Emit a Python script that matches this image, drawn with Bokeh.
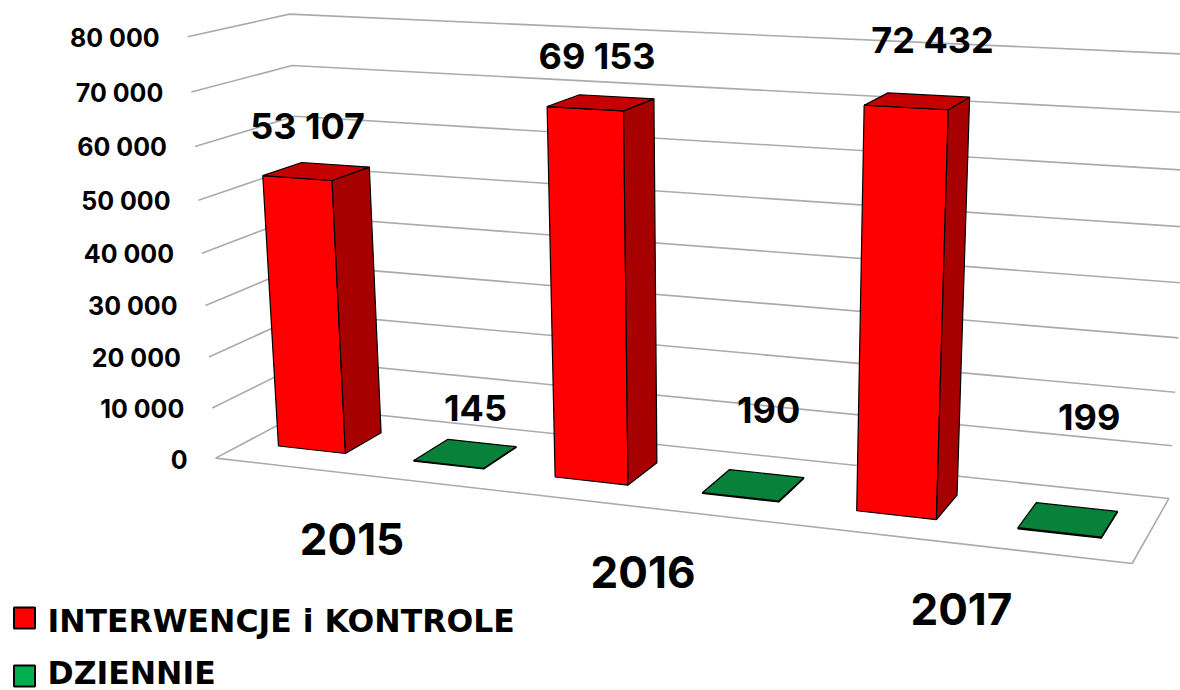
import numpy as np
from bokeh.plotting import figure
from bokeh.embed import file_html
from bokeh.resources import INLINE
from bokeh.core.properties import value
from bokeh.models import ColumnDataSource

years = ["2015", "2016", "2017"]
series_names = ["INTERWENCJE i KONTROLE", "DZIENNIE"]
interwencje = [53107, 69153, 72432]
dziennie = [145, 190, 199]
labels_interwencje = ["53 107", "69 153", "72 432"]
labels_dziennie = ["145", "190", "199"]
tick_values = [0, 10000, 20000, 30000, 40000, 50000, 60000, 70000, 80000]
tick_labels = ["0", "10 000", "20 000", "30 000", "40 000", "50 000", "60 000", "70 000", "80 000"]
VMAX = 80000

FONT = "Inter"
LEGEND_FONT = "DejaVu Sans"
FACE_COLORS = [("#FF0000", "#A60000", "#C40000"), ("#00B050", "#06702F", "#08813A")]
LEGEND_COLORS = ["#FF0000", "#00B050"]
GRID = "#ABABAB"

# camera calibration of the 3D chart box: (x along categories, z depth, y = value/VMAX) -> page pixels
world = [(0,0,0),(1,0,0),(1,1,0),(0,1,0),(0,1,1),(1,1,1),(0,0,1)]
screen = [(214,457),(1132,563),(1168,498),(311,408),(288,13),(1195,54),(188,37)]
A, b = [], []
for (X, Z, Y), (u, v) in zip(world, screen):
    A.append([X, Y, Z, 1, 0, 0, 0, 0, -u*X, -u*Y, -u*Z]); b.append(u)
    A.append([0, 0, 0, 0, X, Y, Z, 1, -v*X, -v*Y, -v*Z]); b.append(v)
h = np.linalg.lstsq(np.array(A, float), np.array(b, float), rcond=None)[0]
P = np.append(h, 1).reshape(3, 4)

def proj(x, z, val):
    w = P @ np.array([x, val / VMAX, z, 1.0])
    return float(w[0] / w[2]), float(w[1] / w[2])

def poly(points):
    pts = [proj(*q) for q in points]
    return [q[0] for q in pts], [q[1] for q in pts]

# layout of the bars in box units
CAT_W = 1 / 3
BAR_W = CAT_W / 4
Z0, Z1 = 0.30, 0.70

# label offsets from the top centre of each bar, page pixels
label_dx = [[-9, -4, 15], [10, 15, 21]]
label_dy = [[-45, -47, -61], [-46, -75, -102]]

p = figure(width=1180, height=690, x_range=(0, 1180), y_range=(690, 0),
           toolbar_location=None, output_backend="svg", min_border=0,
           outline_line_color=None, background_fill_color="white")
p.axis.visible = False
p.grid.visible = False

# walls: one bent gridline per tick, and the floor outline
for t in tick_values[1:]:
    xs, ys = poly([(0, 0, t), (0, 1, t), (1, 1, t)])
    p.line(xs, ys, line_color=GRID, line_width=1.6)
xs, ys = poly([(0, 0, 0), (1, 0, 0), (1, 1, 0), (0, 1, 0), (0, 0, 0)])
p.line(xs, ys, line_color=GRID, line_width=1.6)

# bars, painted left to right
fx, fy, fc = [], [], []
lx, ly, lt, ldx, ldy = [], [], [], [], []
for i in range(len(years)):
    for j, (vals, texts) in enumerate([(interwencje, labels_interwencje), (dziennie, labels_dziennie)]):
        x0 = i * CAT_W + BAR_W / 2 + j * 2 * BAR_W
        x1 = x0 + BAR_W
        v = vals[i]
        front, side, top = FACE_COLORS[j]
        faces = [
            ([(x0, Z0, 0), (x1, Z0, 0), (x1, Z0, v), (x0, Z0, v)], front),
            ([(x1, Z0, 0), (x1, Z1, 0), (x1, Z1, v), (x1, Z0, v)], side),
            ([(x0, Z0, v), (x1, Z0, v), (x1, Z1, v), (x0, Z1, v)], top),
        ]
        for pts, col in faces:
            a, c = poly(pts)
            fx.append(a); fy.append(c); fc.append(col)
        cx, cy = proj((x0 + x1) / 2, (Z0 + Z1) / 2, v)
        lx.append(cx); ly.append(cy); lt.append(texts[i])
        ldx.append(label_dx[j][i]); ldy.append(label_dy[j][i])
p.patches(xs="xs", ys="ys", fill_color="c", line_color="#000000", line_width=1.2,
          source=ColumnDataSource(dict(xs=fx, ys=fy, c=fc)))

# data labels
p.text(x="x", y="y", text="t", x_offset="dx", y_offset="dy", text_font=value(FONT),
       text_font_style="bold", text_font_size="36px", text_color="#000000",
       text_align="center", text_baseline="middle",
       source=ColumnDataSource(dict(x=lx, y=ly, t=lt, dx=ldx, dy=ldy)))

# value axis labels
tp = [proj(0, 0, t) for t in tick_values]
p.text(x=[q[0] for q in tp], y=[q[1] for q in tp], text=tick_labels, x_offset=-28, y_offset=1,
       text_font=value(FONT), text_font_style="bold", text_font_size="25px", text_color="#000000",
       text_align="right", text_baseline="middle")

# category labels
cp = [proj((i + 0.5) * CAT_W, 0, 0) for i in range(len(years))]
p.text(x=[q[0] for q in cp], y=[q[1] for q in cp], text=years, y_offset=65, text_font=value(FONT),
       text_font_style="bold", text_font_size="44px", text_color="#000000",
       text_align="center", text_baseline="middle")

# legend
legend_y = [617.5, 675.5]
p.scatter([24, 24], legend_y, marker="square", size=21, fill_color=LEGEND_COLORS,
          line_color="#000000", line_width=2)
p.text([47, 47], [620, 672], text=series_names, text_font=value(LEGEND_FONT), text_font_style="bold",
       text_font_size="31.5px", text_color="#000000", text_align="left", text_baseline="middle")

open("out.html", "w").write(file_html(p, INLINE))
